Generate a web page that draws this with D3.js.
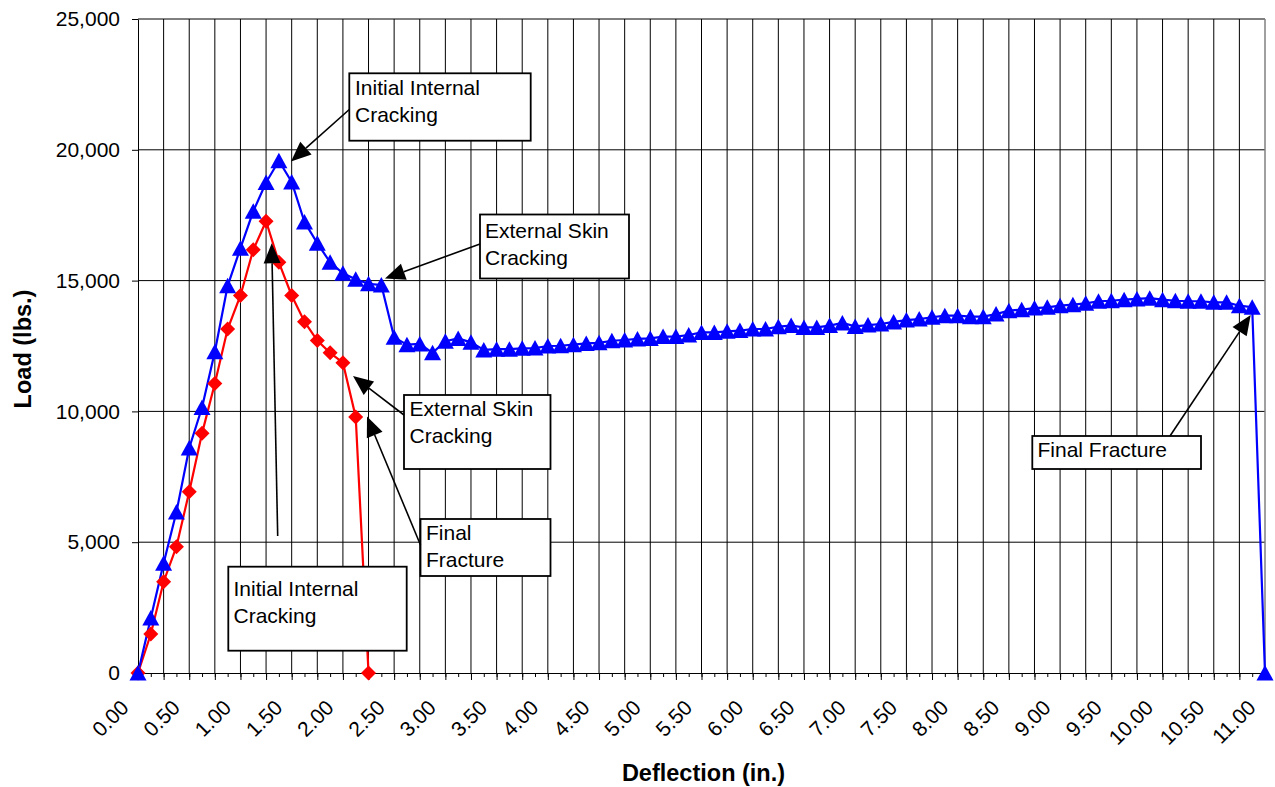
<!DOCTYPE html>
<html><head><meta charset="utf-8">
<script src="https://cdn.jsdelivr.net/npm/d3@7"></script>
<style>
html,body{margin:0;padding:0;background:#fff;}
svg{display:block;font-family:Arial,"Liberation Sans",sans-serif;}
</style></head><body>
<svg id="chart" width="1275" height="787"></svg>
<script>
// ---------- DATA ----------
const blueDeflection = [0, 0.125, 0.25, 0.375, 0.5, 0.625, 0.75, 0.875, 1, 1.125, 1.25, 1.375, 1.5, 1.625, 1.75, 1.875, 2, 2.125, 2.25, 2.375, 2.5, 2.625, 2.75, 2.875, 3, 3.125, 3.25, 3.375, 3.5, 3.625, 3.75, 3.875, 4, 4.125, 4.25, 4.375, 4.5, 4.625, 4.75, 4.875, 5, 5.125, 5.25, 5.375, 5.5, 5.625, 5.75, 5.875, 6, 6.125, 6.25, 6.375, 6.5, 6.625, 6.75, 6.875, 7, 7.125, 7.25, 7.375, 7.5, 7.625, 7.75, 7.875, 8, 8.125, 8.25, 8.375, 8.5, 8.625, 8.75, 8.875, 9, 9.125, 9.25, 9.375, 9.5, 9.625, 9.75, 9.875, 10, 10.125, 10.25, 10.375, 10.5, 10.625, 10.75, 10.875, 11];
const blueLoad = [0, 2100, 4200, 6150, 8600, 10150, 12280, 14800, 16240, 17650, 18750, 19580, 18770, 17240, 16430, 15700, 15280, 15050, 14880, 14830,
  12830, 12550, 12580, 12240, 12680, 12790, 12640, 12350, 12380, 12380, 12410, 12420, 12500, 12510, 12550, 12600, 12620, 12700, 12730, 12770,
  12790, 12860, 12860, 12920, 13020, 13020, 13060, 13090, 13150, 13150, 13240, 13280, 13210, 13210, 13280, 13380, 13250, 13300, 13340, 13420,
  13490, 13530, 13600, 13660, 13660, 13620, 13620, 13720, 13850, 13890, 13950, 13980, 14040, 14080, 14130, 14210, 14230, 14270, 14300, 14330,
  14270, 14230, 14210, 14210, 14170, 14170, 14040, 13980, 0];
const redDeflection = [0, 0.125, 0.25, 0.375, 0.5, 0.625, 0.75, 0.875, 1, 1.125, 1.25, 1.375, 1.5, 1.625, 1.75, 1.875, 2, 2.125, 2.25];
const redLoad = [0, 1490, 3490, 4830, 6930, 9160, 11070, 13150, 14430, 16180, 17270, 15700, 14430, 13430, 12710, 12240, 11860, 9790, 0];
const yTickValues = [0, 5000, 10000, 15000, 20000, 25000];
const xTickLabels = ["0.00","0.50","1.00","1.50","2.00","2.50","3.00","3.50","4.00","4.50","5.00","5.50","6.00","6.50","7.00","7.50","8.00","8.50","9.00","9.50","10.00","10.50","11.00"];
const xTitle = "Deflection (in.)";
const yTitle = "Load (lbs.)";

// ---------- LAYOUT ----------
const pL = 138, pR = 1265, pT = 19, pB = 673;
const x = d3.scaleLinear().domain([0, 11]).range([pL, pR]);
const y = d3.scaleLinear().domain([0, 25000]).range([pB, pT]);
const svg = d3.select("#chart");
const FONT = 21;
const TITLE_FONT = 23.5;

// gridlines
const vGrid = d3.range(0.25, 10.9, 0.25);
svg.append("g").selectAll("line").data(vGrid).join("line")
  .attr("x1", d => x(d)).attr("x2", d => x(d)).attr("y1", pT).attr("y2", pB)
  .attr("stroke", "#000").attr("stroke-width", 1);
svg.append("g").selectAll("line").data(yTickValues.filter(v => v > 0)).join("line")
  .attr("x1", pL).attr("x2", pR).attr("y1", d => y(d)).attr("y2", d => y(d))
  .attr("stroke", "#000").attr("stroke-width", 1);
// plot right border
svg.append("line").attr("x1", pR).attr("x2", pR).attr("y1", pT).attr("y2", pB)
  .attr("stroke", "#808080").attr("stroke-width", 1.5);

// y axis
const yAxis = svg.append("g").attr("transform", `translate(${pL},0)`)
  .call(d3.axisLeft(y).tickValues(yTickValues).tickSize(6).tickSizeOuter(0).tickPadding(12).tickFormat(d3.format(",")));
yAxis.selectAll("text").attr("font-size", FONT).attr("fill", "#000").attr("font-family", "Arial, 'Liberation Sans', sans-serif");
yAxis.selectAll("line,path").attr("stroke", "#000");

// x axis: minor and major ticks
svg.append("g").attr("transform", `translate(0,${pB})`)
  .call(d3.axisBottom(x).tickValues(d3.range(0, 11.01, 0.125)).tickSize(4).tickSizeOuter(0).tickFormat(""));
svg.append("g").attr("transform", `translate(0,${pB})`)
  .call(d3.axisBottom(x).tickValues(d3.range(0, 11.01, 0.25)).tickSize(7).tickSizeOuter(0).tickFormat(""));
svg.selectAll(".domain").attr("stroke", "#000");
svg.selectAll(".tick line").attr("stroke", "#000");

// x tick labels (rotated)
svg.append("g").selectAll("text").data(xTickLabels).join("text")
  .attr("transform", d => `translate(${x(+d) - 8},${709}) rotate(-45)`)
  .attr("text-anchor", "end").attr("font-size", FONT).text(d => d);

// axis titles
svg.append("text").attr("x", (pL + pR) / 2 + 2).attr("y", 781).attr("text-anchor", "middle")
  .attr("font-size", TITLE_FONT).attr("font-weight", "bold").text(xTitle);
svg.append("text").attr("transform", `translate(31,${(pT + pB) / 2 + 3}) rotate(-90)`).attr("text-anchor", "middle")
  .attr("font-size", TITLE_FONT).attr("font-weight", "bold").text(yTitle);

// series
const blue = blueDeflection.map((d, i) => [d, blueLoad[i]]);
const red = redDeflection.map((d, i) => [d, redLoad[i]]);
const line = d3.line().x(d => x(d[0])).y(d => y(d[1]));
svg.append("path").datum(red).attr("d", line).attr("fill", "none").attr("stroke", "#ff0000").attr("stroke-width", 2.2);
svg.append("path").datum(blue).attr("d", line).attr("fill", "none").attr("stroke", "#0000ff").attr("stroke-width", 2.2);
svg.append("g").selectAll("path").data(red).join("path")
  .attr("transform", d => `translate(${x(d[0])},${y(d[1])})`)
  .attr("d", "M0,-7.5L7.5,0L0,7.5L-7.5,0Z").attr("fill", "#ff0000");
svg.append("g").selectAll("path").data(blue).join("path")
  .attr("transform", d => `translate(${x(d[0])},${y(d[1])})`)
  .attr("d", "M0,-8L8.5,7.5L-8.5,7.5Z").attr("fill", "#0000ff");

// annotations
const notes = [
  {box: [349.3, 73.3, 530.7, 140.7], tx: 355, lines: ["Initial Internal", "Cracking"], base: 94.5, from: [349.3, 109.5], to: [291, 161.5]},
  {box: [480, 214.5, 629, 278.5], tx: 485, lines: ["External Skin", "Cracking"], base: 237.5, from: [480, 244], to: [385, 278.5]},
  {box: [404, 395, 550.5, 469], tx: 409.5, lines: ["External Skin", "Cracking"], base: 416, from: [404, 415], to: [353, 376]},
  {box: [420.5, 519, 550.5, 576], tx: 426, lines: ["Final", "Fracture"], base: 540, from: [420.5, 545], to: [367, 416.5]},
  {box: [228.3, 566.7, 406.7, 650.7], tx: 233.5, lines: ["Initial Internal", "Cracking"], base: 596, from: [277.7, 536], to: [271.7, 243.3]},
  {box: [1032.3, 436, 1201, 469], tx: 1037.5, lines: ["Final Fracture"], base: 457, from: [1170, 436], to: [1250.7, 315]}
];
const ng = svg.append("g");
notes.forEach(n => {
  const [x0, y0, x1, y1] = n.box;
  ng.append("rect").attr("x", x0).attr("y", y0).attr("width", x1 - x0).attr("height", y1 - y0)
    .attr("fill", "#fff").attr("stroke", "#000").attr("stroke-width", 1.8);
  n.lines.forEach((t, k) => {
    ng.append("text").attr("x", n.tx).attr("y", n.base + k * 27).attr("font-size", FONT).text(t);
  });
  const [ax, ay] = n.from, [bx, by] = n.to;
  const dx = bx - ax, dy = by - ay, L = Math.hypot(dx, dy);
  const ux = dx / L, uy = dy / L, hl = 20, hw = 8.5;
  const cx = bx - ux * hl, cy = by - uy * hl;
  ng.append("line").attr("x1", ax).attr("y1", ay).attr("x2", cx).attr("y2", cy)
    .attr("stroke", "#000").attr("stroke-width", 1.6);
  ng.append("path").attr("d", `M${bx},${by}L${cx - uy * hw},${cy + ux * hw}L${cx + uy * hw},${cy - ux * hw}Z`)
    .attr("fill", "#000");
});
</script>
</body></html>
